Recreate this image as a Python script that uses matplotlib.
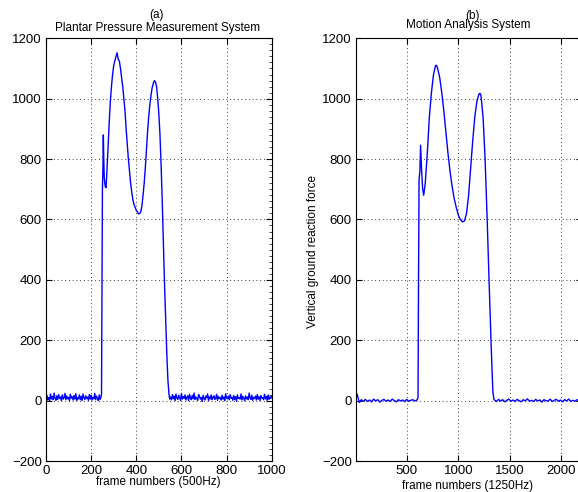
import numpy as np
import matplotlib
matplotlib.use("Agg")
from matplotlib import pyplot as plt
from matplotlib.ticker import MultipleLocator

plt.rcParams['font.family'] = ['Liberation Sans', 'DejaVu Sans']

# (a) plantar pressure system, 500 Hz
noise_a_pre = [5, 18, 2, 10, 0, 22, 6, 14, 3, 25, 8, 1, 16, 4, 20, 7, 12, 0, 19, 5,
               9, 24, 3, 15, 6, 11, 0, 21, 8, 13, 2, 17, 5, 23, 1, 10, 6, 19, 3, 14,
               0, 22, 9, 4, 16, 7, 12, 1, 20, 5, 18, 2, 11, 6, 24, 3, 15, 8, 0, 19,
               4, 13]
stance_a_x = [246, 248, 250, 252, 254, 256, 258, 262, 266, 270, 275, 280, 285, 290,
              295, 300, 305, 310, 315, 320, 325, 330, 335, 340, 345, 350, 355, 360,
              365, 370, 375, 380, 385, 390, 395, 400, 405, 410, 415, 420, 425, 430,
              435, 440, 445, 450, 455, 460, 465, 470, 475, 480, 485, 490, 495, 500,
              505, 510, 515, 520, 525, 530, 535, 540, 545, 548]
stance_a_y = [20, 400, 700, 760, 880, 800, 740, 710, 705, 760, 840, 920, 990, 1040,
              1080, 1110, 1125, 1140, 1152, 1130, 1125, 1100, 1070, 1040, 1000, 960,
              900, 850, 800, 760, 720, 690, 665, 650, 640, 630, 625, 618, 620, 625,
              645, 680, 720, 770, 830, 890, 940, 980, 1010, 1035, 1050, 1060, 1055,
              1040, 1000, 950, 880, 780, 660, 520, 390, 270, 160, 70, 20, 5]
noise_a_post = [12, 3, 20, 6, 15, 0, 22, 8, 4, 18, 10, 1, 24, 5, 13, 7, 19, 2, 11, 16,
                0, 21, 9, 3, 17, 6, 25, 4, 12, 8, 1, 20, 14, 5, 10, -3, 18, 7, 2, 15,
                9, 22, 0, 13, 6, 19, 3, 11, 16, 4, 8, 21, 1, 14, 7, 10, 2, 18, 5, 12,
                0, 23, 9, 6, 15, 3, 20, 8, 11, 1, 17, 4, 13, -2, 19, 7, 10, 5, 22, 2,
                14, 8, 0, 16, 6, 12, 3, 25, 9, 4, 18, 1, 11, 7, 15, 2, 20, 5, 13, 0,
                17, 8, 10, 3, 21, 6, 14, 1, 19, 4, 12, 7, 16]

# (b) motion analysis system, 1250 Hz
noise_b_pre = [0, 22, -6, 3, -2, 4, -3, 2, -4, 5, -1, 3, -5, 1, 4, -2, 2, -3, 5, 0,
               -4, 3, -1, 2, -3, 4, -2, 1, 3, -1, 2]
stance_b_x = [610, 615, 620, 628, 635, 645, 655, 665, 680, 700, 720, 740, 760, 780,
              790, 800, 820, 840, 860, 880, 900, 920, 940, 960, 980, 1000, 1020, 1040,
              1060, 1080, 1100, 1120, 1140, 1160, 1180, 1200, 1210, 1220, 1240, 1260,
              1280, 1300, 1320, 1335, 1345]
stance_b_y = [10, 400, 730, 760, 846, 760, 700, 680, 720, 820, 940, 1020, 1080, 1110,
              1110, 1100, 1070, 1020, 960, 890, 820, 760, 710, 670, 640, 615, 600, 592,
              595, 620, 680, 770, 860, 940, 990, 1015, 1018, 1010, 940, 800, 600, 380,
              170, 30, 5]
noise_b_post = [2, -3, 4, -1, 3, -4, 1, 5, -2, 2, -3, 4, 0, -4, 3, -1, 6, -2, 1, -3,
                4, -1, 2, -5, 3, 0, -2, 5, -3, 1, 4, -2, 2, -4, 3, -1, 5, -3, 1, -2,
                3, -1]


def trace(pre, step_pre, sx, sy, post, start_post, step_post):
    xp = np.arange(len(pre)) * step_pre
    xq = start_post + np.arange(len(post)) * step_post
    x = np.concatenate([xp, sx, xq])
    y = np.concatenate([pre, sy, post])
    return x, y


def style(ax):
    ax.tick_params(direction='in', top=True, right=True, length=4, width=0.8,
                   labelsize=9.5, colors='black', pad=3)
    ax.grid(True, color='black', linestyle=(0, (1, 3.5)), linewidth=0.6)
    for s in ax.spines.values():
        s.set_linewidth(0.8)
    ax.set_ylim(-200, 1200)
    ax.yaxis.set_major_locator(MultipleLocator(200))


fig = plt.figure(figsize=(5.78, 4.92), dpi=100)
W, H = 578.0, 492.0

ax1 = fig.add_axes([46 / W, 31 / H, 225.7 / W, 422.7 / H])
xa, ya = trace(noise_a_pre, 4, stance_a_x, stance_a_y, noise_a_post, 552, 4)
ax1.plot(xa, ya, color='blue', lw=1.0)
ax1.set_xlim(0, 1000)
ax1.xaxis.set_major_locator(MultipleLocator(200))
style(ax1)
ax1.yaxis.set_minor_locator(MultipleLocator(20))
ax1.tick_params(which='minor', direction='in', left=False, right=True, length=2, width=0.5)

ax2 = fig.add_axes([356 / W, 31 / H, 225.7 / W, 422.7 / H])
xb, yb = trace(noise_b_pre, 20, stance_b_x, stance_b_y, noise_b_post, 1350, 20)
ax2.plot(xb, yb, color='blue', lw=1.0)
ax2.set_xlim(9, 2196)
ax2.set_xticks([500, 1000, 1500, 2000])
style(ax2)

# titles, labels placed in pixel coordinates
def ftext(px, py, s, **kw):
    fig.text(px / W, 1 - py / H, s, ha='center', va='center', fontsize=8.5, **kw)

ftext(156, 15, "(a)")
ftext(158, 28, "Plantar Pressure Measurement System")
ftext(473, 16, "(b)")
ftext(468, 25, "Motion Analysis System")
ftext(158, 482, "frame numbers (500Hz)")
ftext(468, 486, "frame numbers (1250Hz)")
ftext(313, 251, "Vertical ground reaction force", rotation=90)

fig.savefig("out.png", dpi=100)
